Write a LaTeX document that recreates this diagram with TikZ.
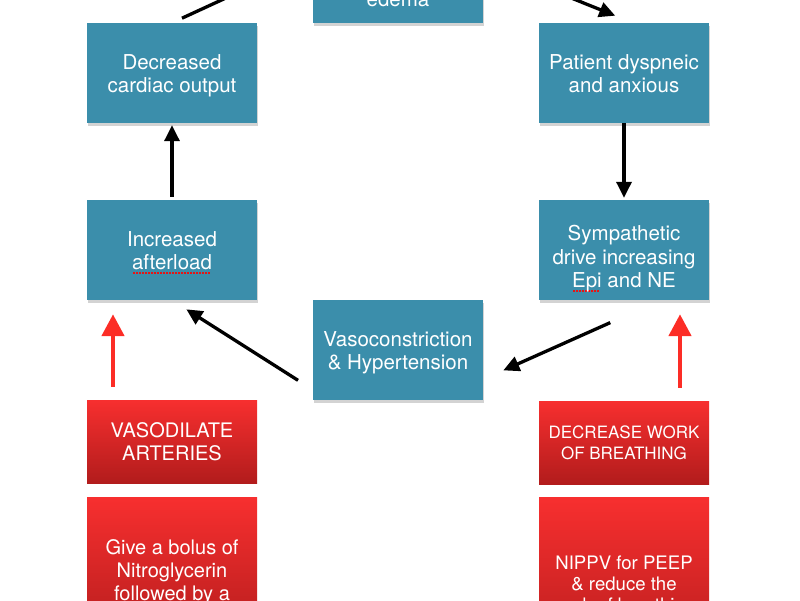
\documentclass[tikz,border=0pt]{standalone}
\usepackage{fontspec}
\setmainfont{TeX Gyre Heros}
\usetikzlibrary{arrows.meta,shadows}
\definecolor{boxblue}{RGB}{59,142,171}
\definecolor{fixtop}{RGB}{247,47,47}
\definecolor{fixbot}{RGB}{178,28,28}
\definecolor{pushred}{RGB}{252,45,38}
\definecolor{spellred}{RGB}{230,20,20}
\newcommand\spellmark[1]{\setbox0\hbox{#1}\rlap{\raisebox{-4pt}{\color{spellred}\leaders\hbox to 3pt{\hss\rule{2pt}{2pt}\hss}\hskip\wd0}}\box0\relax}

\begin{document}
\begin{tikzpicture}[x=1pt,y=-1pt,
cause/.style={rectangle,fill=boxblue,text=white,minimum width=170pt,minimum height=100pt,inner sep=0pt,align=center,text height=49pt,text depth=10pt,font=\fontsize{20.5}{23.5}\selectfont,drop shadow={shadow xshift=0.5pt,shadow yshift=-2.5pt,opacity=0.35}},
fix/.style={rectangle,top color=fixtop,bottom color=fixbot,text=white,minimum width=170pt,minimum height=83pt,inner sep=0pt,align=center,font=\fontsize{20}{23}\selectfont},
flow/.style={line width=3.3pt,-{Triangle[width=15pt,length=16pt]}},
push/.style={pushred,line width=4.7pt,-{Triangle[width=22pt,length=22pt]}}]
\useasboundingbox (0,0) rectangle (800,600);
\clip (0,0) rectangle (800,600);
% the loop
\node[cause,text height=71pt,text depth=5pt] (edema) at (398,-27) {edema};
\node[cause] (cardiac) at (172,73) {Decreased\\cardiac output};
\node[cause] (patient) at (624,73) {Patient dyspneic\\and anxious};
\node[cause] (afterload) at (172,250) {Increased\\\spellmark{afterload}};
\node[cause,text height=85pt,text depth=10pt] (sympath) at (624,250) {Sympathetic\\drive increasing\\\spellmark{Epi} and NE};
\node[cause] (vaso) at (398,350) {Vasoconstriction\\\& Hypertension};
% the treatment
\node[fix] (vasodil) at (172,441.5) {VASODILATE\\ARTERIES};
\node[fix,font=\fontsize{17}{21}\selectfont] (decwork) at (624,442.5) {DECREASE WORK\\OF BREATHING};
\node[fix,anchor=north,inner ysep=42pt] (bolus) at (172,497.3) {Give a bolus of\\Nitroglycerin\\followed by a};
\node[fix,anchor=north,inner ysep=58pt,font=\fontsize{18.6}{21}\selectfont] (nippv) at (624,497.3) {NIPPV for PEEP\\\& reduce the\\work of breathing};
% arrows
\draw[flow,shorten <=11pt,shorten >=14pt] (cardiac.north) -- (edema.170);
\draw[flow,shorten <=10pt,shorten >=19pt] (edema.7) -- (patient.80);
\draw[flow,shorten >=2pt] (patient) -- (sympath);
\draw[flow,shorten <=55pt,shorten >=22pt] (sympath.-54) -- (vaso.-19);
\draw[flow,shorten <=17.5pt,shorten >=17pt] (vaso.-155) -- (afterload.south);
\draw[flow,shorten <=3pt,shorten >=2pt] (afterload) -- (cardiac);
\draw[push,shorten <=13pt,shorten >=14pt] ([xshift=-59pt]vasodil.north) -- ([xshift=-59pt]afterload.south);
\draw[push,shorten <=13pt,shorten >=14pt] ([xshift=56pt]decwork.north) -- ([xshift=56pt]sympath.south);
\end{tikzpicture}
\end{document}
